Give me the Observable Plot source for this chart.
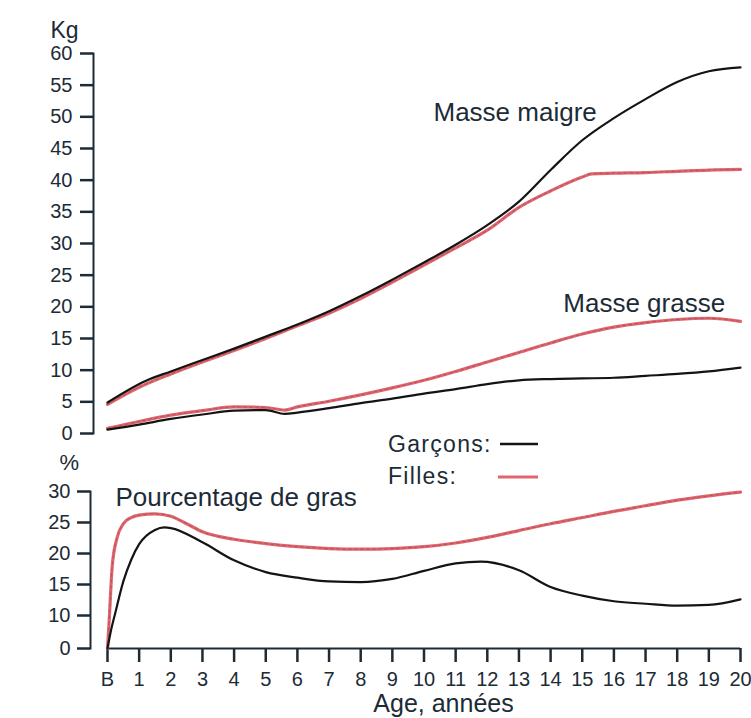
<!DOCTYPE html>
<html><head><meta charset="utf-8">
<script src="https://cdn.jsdelivr.net/npm/d3@7"></script>
<script src="https://cdn.jsdelivr.net/npm/@observablehq/plot@0.6"></script>
<style>
body{margin:0;background:#fff;}
#chart{position:relative;width:751px;height:718px;font-family:"Liberation Sans",Arial,sans-serif;color:#1c2b36;}
#chart svg{display:block;}
.legend{position:absolute;left:388px;top:428px;font-size:23px;letter-spacing:1.3px;line-height:32px;}
.legend div{display:flex;align-items:center;}
</style></head><body><div id="chart"></div>
<script>
// ---- data ----
const ageTicks = [0,1,2,3,4,5,6,7,8,9,10,11,12,13,14,15,16,17,18,19,20];
const kgTicks = [0,5,10,15,20,25,30,35,40,45,50,55,60];
const pctTicks = [0,10,15,20,25,30];

// Masse maigre (kg)
const maigreGarconsAge = [0,1.2,2,3,4,5,6,7,8,9,10,11,12,13,14,15,16,17,18,19,20];
const maigreGarcons    = [4.9,8.3,9.8,11.6,13.4,15.3,17.2,19.3,21.7,24.3,27.0,29.8,32.9,36.6,41.6,46.3,49.8,52.8,55.5,57.2,57.8];
const maigreFillesAge  = [0,1,2,3,4,5,6,7,8,9,10,11,12,13,14,15,15.3,16,17,18,19,20];
const maigreFilles     = [4.6,7.3,9.4,11.3,13.1,15.0,17.0,19.0,21.3,23.9,26.6,29.3,32.1,35.7,38.3,40.5,41.0,41.1,41.2,41.4,41.6,41.7];

// Masse grasse (kg)
const grasseAge     = [0,1,2,3,4,5,5.6,6,7,8,9,10,11,12,13,14,15,16,17,18,19,20];
const grasseGarcons = [0.6,1.4,2.3,3.0,3.6,3.7,3.1,3.3,4.0,4.8,5.5,6.3,7.0,7.8,8.4,8.6,8.7,8.8,9.1,9.4,9.8,10.4];
const grasseFilles  = [0.8,1.9,2.9,3.6,4.2,4.1,3.7,4.2,5.1,6.1,7.2,8.4,9.8,11.3,12.8,14.3,15.7,16.8,17.5,18.0,18.2,17.7];

// Pourcentage de gras (%)
const pctGarconsAge = [0,0.1,0.25,0.5,0.75,1,1.5,1.8,2,3,4,5,6,7,8,9,10,11,11.8,13,14,15,16,17,18,19,20];
const pctGarcons    = [0,5,10.5,15.5,19,21.5,23.8,24.2,24.1,21.8,18.9,17.0,16.1,15.5,15.4,15.9,17.2,18.4,18.7,17.3,14.6,13.2,12.3,11.9,11.6,11.7,12.6];
const pctFillesAge  = [0,0.05,0.15,0.3,0.5,0.75,1,1.5,2,2.5,3,4,5,6,7,8,9,10,11,12,13,14,15,16,17,18,19,20];
const pctFilles     = [0,8,18,22.5,24.8,25.8,26.2,26.4,26.0,24.8,23.5,22.3,21.6,21.1,20.8,20.7,20.8,21.1,21.7,22.6,23.7,24.8,25.8,26.8,27.7,28.6,29.3,29.9];

const topLabels = [
  {label:"Masse maigre", age:10.3, value:50.7},
  {label:"Masse grasse", age:14.4, value:20.5}
];
const bottomLabels = [{label:"Pourcentage de gras", age:0.25, value:29.0}];

// the % axis is broken: the 0–10 stretch is drawn shorter than the rest
const pctBreak = 10, pctBreakRatio = 0.532;
const pctTransform = v => v >= pctBreak ? v : pctBreak - (pctBreak - v) * pctBreakRatio;

// ---- helpers ----
const rows = (ages, vals, serie) => ages.map((a,i) => ({age:a, value:vals[i], serie}));
const INK = "#1c2b36", BLACK = "#141414", RED = "#e3646c";
const FONT = "'Liberation Sans', Arial, sans-serif";

function lineMarks(data, color, isGirl) {
  const m = [Plot.line(data, {x:"age", y:"value", stroke:color, strokeWidth: isGirl ? 3.2 : 2.2, curve:"monotone-x"})];
  if (isGirl) m.push(Plot.line(data, {x:"age", y:"value", stroke:"#6b4a58", strokeOpacity:0.55, strokeWidth:0.9, strokeDasharray:"3,3", curve:"monotone-x"}));
  return m;
}

const ageDomain = [d3.min(ageTicks), d3.max(ageTicks)];

const topPlot = Plot.plot({
  width:751, height:445, marginTop:53, marginBottom:12, marginLeft:93, marginRight:11,
  style:{fontFamily:FONT, color:INK, background:"transparent"},
  x:{domain:ageDomain, insetLeft:14, axis:null},
  y:{domain:[0,60], axis:null},
  marks:[
    Plot.frame({anchor:"left", stroke:INK, strokeWidth:2}),
    Plot.axisY(kgTicks, {tickSize:13, tickPadding:8, fontSize:20, stroke:INK, strokeWidth:2.5, fill:INK, label:null}),
    ...lineMarks(rows(maigreFillesAge, maigreFilles, "Filles"), RED, true),
    ...lineMarks(rows(maigreGarconsAge, maigreGarcons, "Garçons"), BLACK, false),
    ...lineMarks(rows(grasseAge, grasseFilles, "Filles"), RED, true),
    ...lineMarks(rows(grasseAge, grasseGarcons, "Garçons"), BLACK, false),
    Plot.text(topLabels, {x:"age", y:"value", text:"label", textAnchor:"start", fontSize:26, fill:INK}),
    Plot.text(["Kg"], {text:d=>d, frameAnchor:"top-left", lineAnchor:"middle", dx:-43, dy:-23, textAnchor:"start", fontSize:23, fill:INK})
  ]
});

const bottomPlot = Plot.plot({
  width:751, height:273, marginTop:46, marginBottom:70, marginLeft:90, marginRight:11,
  style:{fontFamily:FONT, color:INK, background:"transparent"},
  x:{domain:ageDomain, insetLeft:17, axis:null},
  y:{domain:[pctTransform(0), d3.max(pctTicks)], transform:pctTransform, axis:null},
  marks:[
    Plot.frame({anchor:"left", stroke:INK, strokeWidth:2}),
    Plot.axisY(pctTicks, {tickSize:13, tickPadding:7, fontSize:20, stroke:INK, strokeWidth:2.5, fill:INK, label:null}),
    Plot.ruleY([0], {x1:ageDomain[0], x2:ageDomain[1], stroke:INK, strokeWidth:2.2}),
    Plot.axisX(ageTicks, {tickSize:14, tickPadding:9, fontSize:20, stroke:INK, strokeWidth:2.5, fill:INK, label:null, tickFormat:d => d === 0 ? "B" : String(d)}),
    ...lineMarks(rows(pctFillesAge, pctFilles, "Filles"), RED, true),
    ...lineMarks(rows(pctGarconsAge, pctGarcons, "Garçons"), BLACK, false),
    Plot.text(bottomLabels, {x:"age", y:"value", text:"label", textAnchor:"start", fontSize:26, fill:INK}),
    Plot.text(["%"], {text:d=>d, frameAnchor:"top-left", lineAnchor:"middle", dx:-31, dy:-29, textAnchor:"start", fontSize:22, fill:INK}),
    Plot.text(["Age, années"], {text:d=>d, frameAnchor:"bottom", lineAnchor:"middle", dx:28, dy:55, fontSize:25, fill:INK})
  ]
});

const chart = document.getElementById("chart");
chart.appendChild(topPlot);
chart.appendChild(bottomPlot);

const legend = document.createElement("div");
legend.className = "legend";
legend.innerHTML =
  '<div><span style="width:112px">Garçons:</span><svg width="40" height="10"><line x1="0" x2="38" y1="5" y2="5" stroke="'+BLACK+'" stroke-width="2.4"/></svg></div>' +
  '<div><span style="width:110px">Filles:</span><svg width="42" height="10"><line x1="0" x2="40" y1="6" y2="6" stroke="'+RED+'" stroke-width="3.2"/></svg></div>';
chart.appendChild(legend);
</script></body></html>
